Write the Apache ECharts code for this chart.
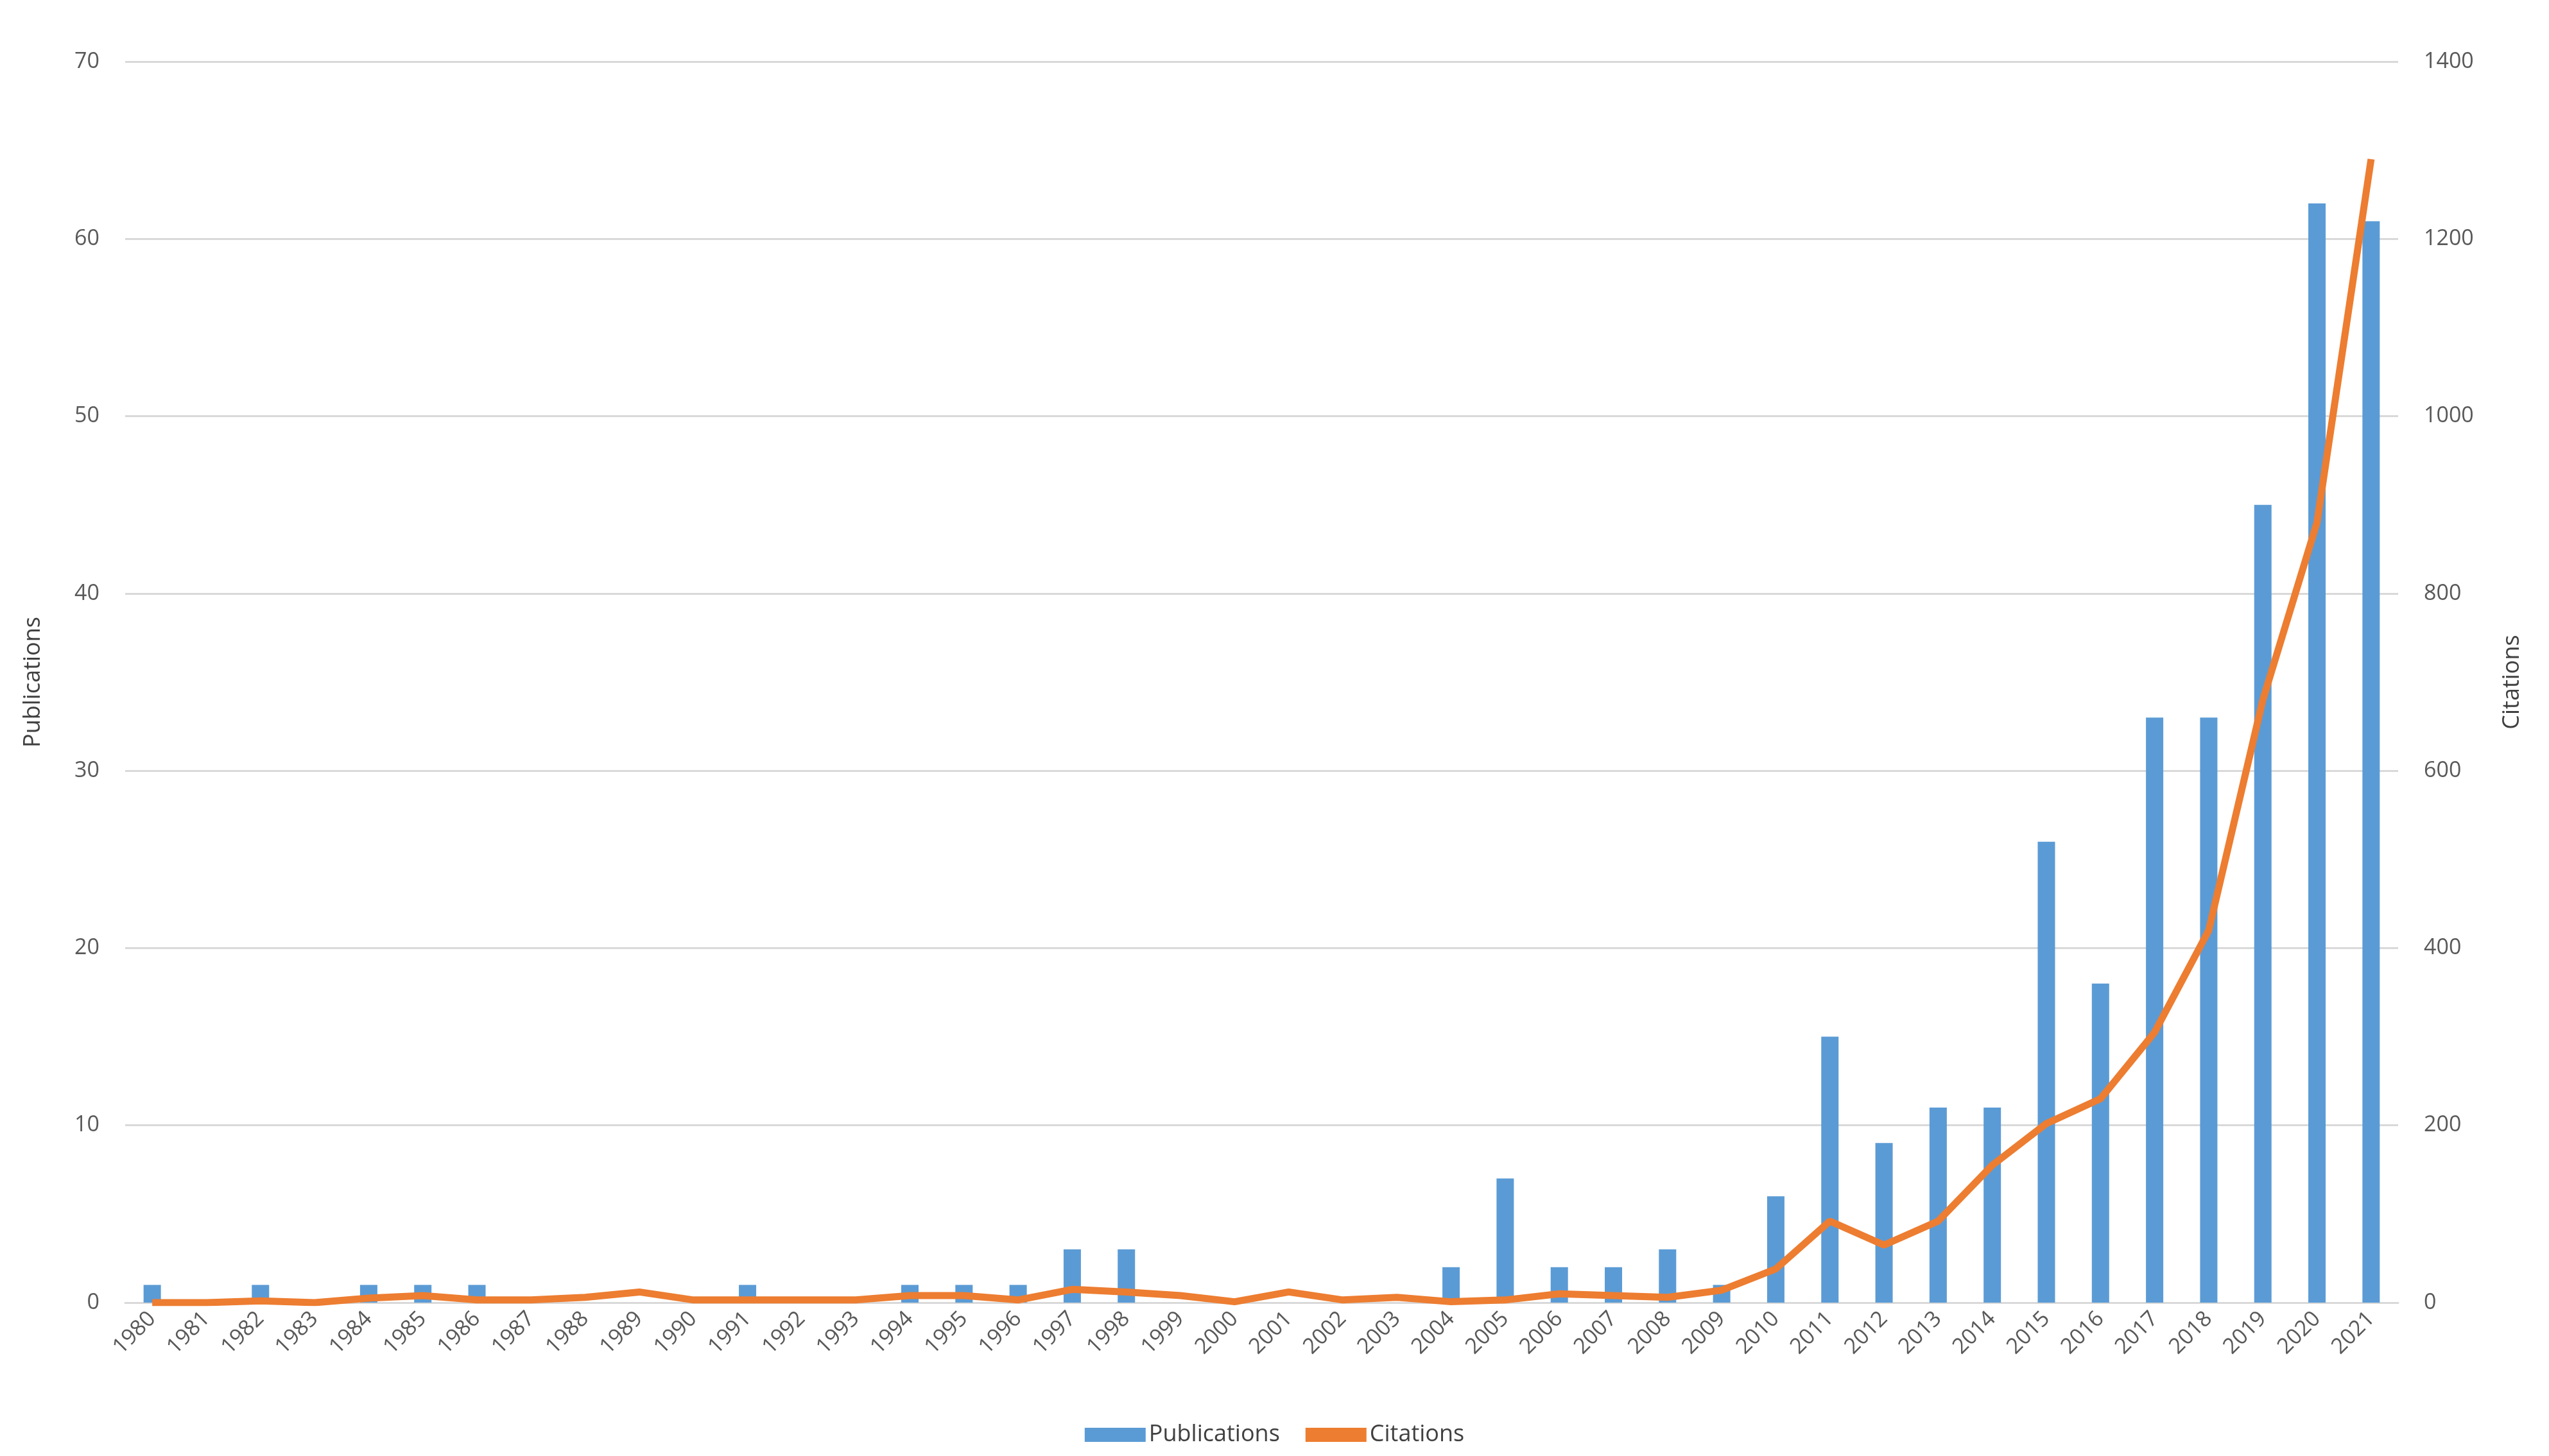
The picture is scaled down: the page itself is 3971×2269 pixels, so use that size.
<!DOCTYPE html>
<html>
<head>
<meta charset="utf-8">
<script src="https://cdn.jsdelivr.net/npm/echarts@6/dist/echarts.min.js"></script>
<style>html,body{margin:0;background:#fff}#chart{width:3971px;height:2269px}</style>
</head>
<body>
<div id="chart"></div>
<script>
const years = [];
for (let y = 1980; y <= 2021; y++) years.push(String(y));
const publications = [1,0,1,0,1,1,1,0,0,0,0,1,0,0,1,1,1,3,3,0,0,0,0,0,2,7,2,2,3,1,6,15,9,11,11,26,18,33,33,45,62,61];
const citations = [0,0,2,0,5,8,3,3,6,12,3,3,3,3,8,8,3,15,12,8,1,12,3,6,1,3,10,8,6,14,38,92,65,92,155,202,230,305,420,680,880,1290];

const font = 'Open Sans';
const axisText = {color: '#595959', fontSize: 34, fontFamily: font};
const chart = echarts.init(document.getElementById('chart'));
chart.setOption({
    animation: false,
    grid: {left: 195, right: 235, top: 96, bottom: 239},
    legend: {
        bottom: 10, itemWidth: 95, itemHeight: 22, itemGap: 40,
        textStyle: {color: '#404040', fontSize: 36, fontFamily: font},
        data: [{name: 'Publications', icon: 'rect'}, {name: 'Citations', icon: 'rect', itemStyle: {color: '#ed7d31'}}]
    },
    xAxis: {
        type: 'category', data: years,
        axisTick: {show: false},
        axisLine: {lineStyle: {color: '#d9d9d9', width: 3}},
        axisLabel: Object.assign({rotate: 45, interval: 0, margin: 20}, axisText)
    },
    yAxis: [{
        type: 'value', min: 0, max: 70, interval: 10,
        name: 'Publications', nameLocation: 'middle', nameGap: 125,
        nameTextStyle: {color: '#404040', fontSize: 36, fontFamily: font},
        axisLabel: Object.assign({margin: 40}, axisText),
        splitLine: {lineStyle: {color: '#d9d9d9', width: 3}}
    }, {
        type: 'value', min: 0, max: 1400, interval: 200,
        name: 'Citations', nameLocation: 'middle', nameGap: 160, nameRotate: 90,
        nameTextStyle: {color: '#404040', fontSize: 36, fontFamily: font},
        axisLabel: Object.assign({margin: 40, formatter: v => String(v)}, axisText),
        splitLine: {show: false}
    }],
    series: [{
        name: 'Publications', type: 'bar', data: publications,
        barWidth: 27, itemStyle: {color: '#5b9bd5'}
    }, {
        name: 'Citations', type: 'line', yAxisIndex: 1, data: citations,
        symbol: 'none', lineStyle: {color: '#ed7d31', width: 11}, itemStyle: {color: '#ed7d31'}
    }]
});
</script>
</body>
</html>
